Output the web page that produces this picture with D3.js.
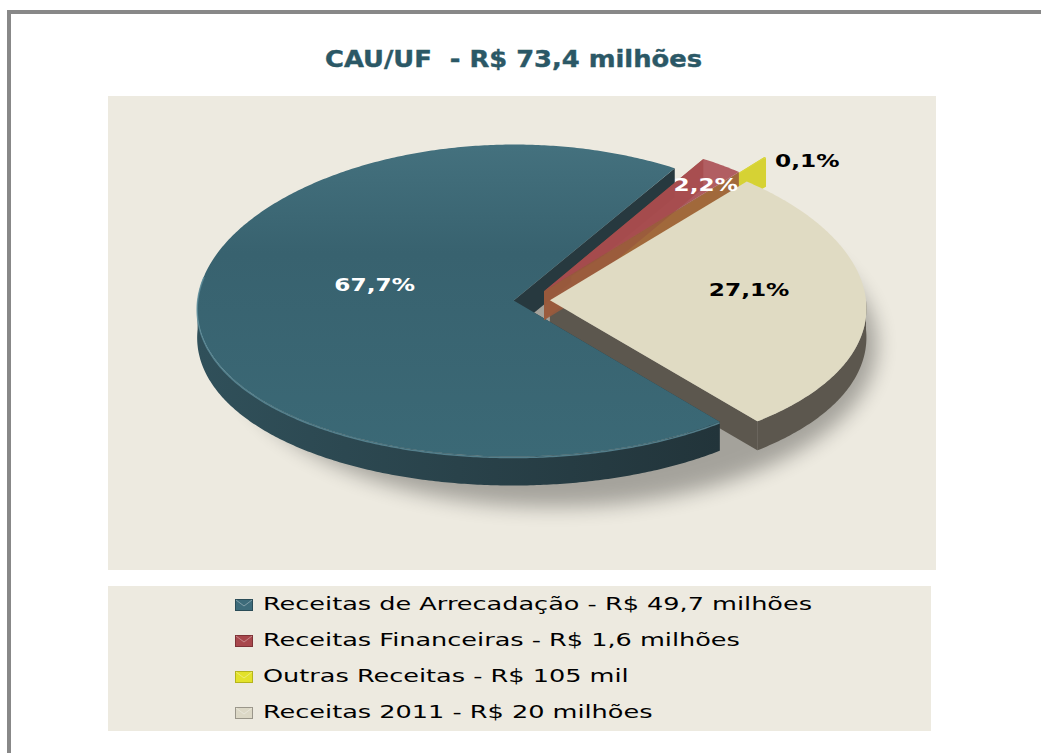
<!DOCTYPE html>
<html><head><meta charset="utf-8">
<script src="https://cdn.jsdelivr.net/npm/d3@7"></script>
<style>body{margin:0;background:#fff}svg{display:block}</style>
</head><body>
<svg id="c" width="1041" height="753"></svg>
<script>
// ---- data ----
const titleText = "CAU/UF  - R$ 73,4 milhões";
const categories = [
  "Receitas de Arrecadação - R$ 49,7 milhões",
  "Receitas Financeiras - R$ 1,6 milhões",
  "Outras Receitas - R$ 105 mil",
  "Receitas 2011 - R$ 20 milhões"
];
const shares = [67.7, 2.2, 0.1, 27.1];
const pctLabels = ["67,7%", "2,2%", "0,1%", "27,1%"];

// ---- styles ----
const topColors  = ["#3a6673", "#a84a50", "#d9d63c", "#e0dbc3"];
const wallColors = ["#27393f", "#9a5a3c", "#d6d234", "#5c574e"];
const legendColors = ["#3d6b7a", "#a8474c", "#e3e22a", "#dcd8c6"];
const legendStroke = ["#2a4c57", "#7e3236", "#b5b41c", "#9a968a"];
const explode = [0.055, 0.07, 0.2, 0.06];
const opac = [1, 0.88, 1, 1];
const labelFill = ["#fff", "#fff", "#000", "#000"];
const labelPos = [{r:0.44,dx:0,dy:-14},{r:0.85,dx:10,dy:7},{r:1.0,dx:42,dy:10},{r:0.63,dx:0,dy:-5}];

const svg = d3.select("#c");
const defs = svg.append("defs");

// frame
svg.append("rect").attr("x",7).attr("y",10).attr("width",1041).attr("height",4).attr("fill","#888");
svg.append("rect").attr("x",7).attr("y",10).attr("width",4).attr("height",753).attr("fill","#888");

// plot & legend areas
svg.append("rect").attr("x",108).attr("y",96).attr("width",828).attr("height",474).attr("fill","#edeae0");
svg.append("rect").attr("x",108).attr("y",586).attr("width",823).attr("height",145).attr("fill","#edeae0");

defs.append("clipPath").attr("id","plotclip").append("rect")
  .attr("x",108).attr("y",96).attr("width",828).attr("height",474);
const blur = defs.append("filter").attr("id","blur").attr("x","-20%").attr("y","-20%").attr("width","140%").attr("height","140%");
blur.append("feGaussianBlur").attr("stdDeviation",10);

const tg = defs.append("linearGradient").attr("id","tealTop").attr("x1",0).attr("y1",0).attr("x2",0).attr("y2",1);
tg.append("stop").attr("offset","0%").attr("stop-color","#44717e");
tg.append("stop").attr("offset","35%").attr("stop-color","#38626f");
tg.append("stop").attr("offset","100%").attr("stop-color","#3b6976");
const tw = defs.append("linearGradient").attr("id","tealWall").attr("x1",0).attr("y1",0).attr("x2",1).attr("y2",0);
tw.append("stop").attr("offset","0%").attr("stop-color","#30505a");
tw.append("stop").attr("offset","100%").attr("stop-color","#22343a");

// title
const title = svg.append("text").text(titleText)
  .style("white-space","pre")
  .attr("font-family","DejaVu Sans").attr("font-weight","bold").attr("font-size",23)
  .attr("fill","#2b5866").attr("stroke","#2b5866").attr("stroke-width",0.4).attr("y",67);
{
  const tw2 = 377;
  title.attr("x", 513.5 - tw2/2).attr("textLength", tw2).attr("lengthAdjust","spacingAndGlyphs");
}

// ---- 3D pie ----
const cx = 531, cy = 300, rx = 316, ry = 156, h = 29, persp = 0.05;
const startDeg = 51;
const pie = d3.pie().sort(null).value(d => d)
  .startAngle((startDeg + 90) * Math.PI / 180)
  .endAngle((startDeg + 90) * Math.PI / 180 + 2 * Math.PI);
const arcs = pie(shares).map((a, i) => {
  const t0 = a.startAngle - Math.PI/2, t1 = a.endAngle - Math.PI/2;
  const mid = (t0 + t1) / 2;
  const ox = rx * explode[i] * Math.cos(mid), oy = ry * explode[i] * Math.sin(mid);
  return {i, t0, t1, mid, ox, oy};
});
const P = (a, t, r, z) => {
  const x = cx + a.ox + rx * r * Math.cos(t);
  const y = cy + a.oy + ry * r * Math.sin(t);
  const f = 1 + persp * (y - cy) / ry;
  return [cx + (x - cx) * f, y + z];
};
const line = d3.line();
function arcPts(a, t0, t1, z) {
  const n = Math.max(2, Math.ceil((t1 - t0) / 0.01));
  return d3.range(n + 1).map(k => P(a, t0 + (t1 - t0) * k / n, 1, z));
}
function topPath(a) {
  return line([P(a, 0, 0, 0), ...arcPts(a, a.t0, a.t1, 0)]) + "Z";
}
function outerWalls(a) {
  const res = [];
  for (let k = -1; k <= 2; k++) {
    const lo = Math.max(a.t0, 2*Math.PI*k), hi = Math.min(a.t1, 2*Math.PI*k + Math.PI);
    if (hi > lo) {
      const up = arcPts(a, lo, hi, 0), dn = arcPts(a, lo, hi, h).reverse();
      res.push(line([...up, ...dn]) + "Z");
    }
  }
  return res;
}
function radialWall(a, t) {
  return line([P(a, t, 0, 0), P(a, t, 1, 0), P(a, t, 1, h), P(a, t, 0, h)]) + "Z";
}

const g = svg.append("g").attr("clip-path","url(#plotclip)");
// shadow
g.append("ellipse").attr("cx", cx + 22).attr("cy", cy + h + 16).attr("rx", rx + 8).attr("ry", ry + 6)
  .attr("fill","#000").attr("opacity",0.3).attr("filter","url(#blur)");

function drawWalls(a) {
  const i = a.i;
  const wf = i === 0 ? "url(#tealWall)" : wallColors[i];
  g.append("path").attr("d", radialWall(a, a.t0)).attr("fill", wallColors[i]).attr("opacity", opac[i]);
  g.append("path").attr("d", radialWall(a, a.t1)).attr("fill", wallColors[i]).attr("opacity", opac[i]);
  outerWalls(a).forEach(d => g.append("path").attr("d", d).attr("fill", wf).attr("opacity", opac[i]));
}
function drawTop(a) {
  const i = a.i;
  g.append("path").attr("d", topPath(a)).attr("fill", i === 0 ? "url(#tealTop)" : topColors[i]).attr("opacity", opac[i]);
}
// order: beige walls, teal, yellow, red, beige top
drawWalls(arcs[3]);
drawWalls(arcs[0]); drawTop(arcs[0]);
// rim highlight on teal front edge
{
  const a = arcs[0];
  const lo = Math.max(a.t0, 0.35), hi = Math.min(a.t1, Math.PI * 1.05);
  g.append("path").attr("d", line(arcPts(a, lo, hi, 1))).attr("fill","none")
    .attr("stroke","#5f8f9c").attr("stroke-width",1.5).attr("opacity",0.8);
}
drawWalls(arcs[2]); drawTop(arcs[2]);
drawWalls(arcs[1]); drawTop(arcs[1]);
drawTop(arcs[3]);

// percentage labels
const k = 1.29;
arcs.forEach(a => {
  const lp = labelPos[a.i];
  const p = P(a, a.mid, lp.r, 0);
  const t = svg.append("text").text(pctLabels[a.i])
    .attr("font-family","DejaVu Sans").attr("font-weight","bold").attr("font-size",18)
    .attr("fill", labelFill[a.i]).attr("y", p[1] + lp.dy);
  const w = t.node().getComputedTextLength() * k;
  t.attr("x", p[0] + lp.dx - w/2).attr("textLength", w).attr("lengthAdjust","spacingAndGlyphs");
});

// legend
const ly = d3.scalePoint().domain(categories).range([610, 718]);
const lg = svg.append("g");
let kl = 1;
categories.forEach((c, i) => {
  const y = ly(c);
  lg.append("rect").attr("x",235.5).attr("y",y-10.5).attr("width",17).attr("height",11)
    .attr("fill",legendColors[i]).attr("stroke",legendStroke[i]).attr("stroke-width",1);
  lg.append("path").attr("d",`M236,${y-10} L244,${y-4} L252,${y-10}`).attr("fill","none")
    .attr("stroke","#fff").attr("stroke-opacity",0.35).attr("stroke-width",1);
  const t = lg.append("text").text(c).attr("font-family","DejaVu Sans").attr("font-size",17.5)
    .attr("fill","#000").attr("x",263).attr("y",y);
  const w = t.node().getComputedTextLength();
  if (i === 0) kl = 549 / w;
  t.attr("textLength", w * kl).attr("lengthAdjust","spacingAndGlyphs");
});
</script>
</body></html>
